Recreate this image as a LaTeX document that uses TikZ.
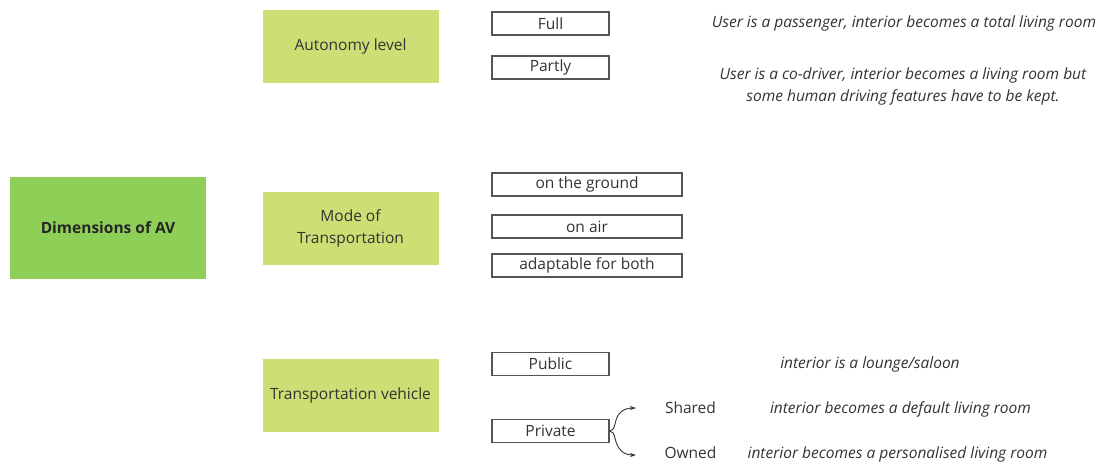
\documentclass[tikz,border=0pt]{standalone}
\usepackage{fontspec}
\setmainfont{Open Sans}
\usetikzlibrary{arrows.meta}
\definecolor{rootgreen}{HTML}{8ECF57}
\definecolor{dimgreen}{HTML}{CEDD74}
\definecolor{inktext}{HTML}{333333}
\definecolor{boxline}{HTML}{555555}
\begin{document}
\begin{tikzpicture}[x=1pt,y=-1pt,
  every node/.style={text=inktext, font=\fontsize{15.5}{19}\selectfont},
  rootbox/.style={fill=rootgreen, draw=none, minimum width=196pt, minimum height=102pt, font=\fontsize{15.5}{19}\selectfont\bfseries, text=black!85},
  dimbox/.style={fill=dimgreen, draw=none, minimum width=176pt, minimum height=73pt, align=center, font=\fontsize{15.5}{22}\selectfont},
  optbox/.style={draw=boxline, line width=1.1pt, fill=white, inner sep=0pt, minimum height=23pt},
  shortopt/.style={optbox, minimum width=117pt},
  longopt/.style={optbox, minimum width=190pt},
  note/.style={font=\fontsize{15.5}{22}\selectfont\itshape, align=center},
  branch/.style={draw=inktext, line width=0.9pt, -{Stealth[length=6pt,width=4pt]}}
]
\useasboundingbox (0,0) rectangle (1107,467);

% root and dimensions
\node[rootbox] (root) at (108,228) {Dimensions of AV};
\node[dimbox] (auto) at (350.5,46) {Autonomy level};
\node[dimbox] (mode) at (350.5,228.5) {Mode of\\Transportation};
\node[dimbox] (veh) at (350.5,395.5) {Transportation vehicle};

% autonomy level options
\node[shortopt] (full) at (550.5,23.5) {Full};
\node[shortopt] (partly) at (550.5,67.5) {Partly};
\node[note] (fullnote) at (904,23) {User is a passenger, interior becomes a total living room};
\node[note] (partlynote) at (903,86) {User is a co-driver, interior becomes a living room but\\some human driving features have to be kept.};

% mode of transportation options
\node[longopt] (ground) at (587,184.5) {on the ground};
\node[longopt] (air) at (587,226.5) {on air};
\node[longopt] (both) at (587,265.5) {adaptable for both};

% transportation vehicle options
\node[shortopt] (public) at (550.5,364) {Public};
\node[shortopt] (private) at (550.5,431) {Private};
\node[note] (publicnote) at (870,364) {interior is a lounge/saloon};

\node (shared) at (690.5,408) {Shared};
\node (owned) at (690.5,453) {Owned};
\node[note] (sharednote) at (900.5,409) {interior becomes a default living room};
\node[note] (ownednote) at (897.5,454) {interior becomes a personalised living room};

% brace splitting the private option
\coordinate (upend) at (636,408);
\coordinate (downend) at (636,455);
\draw[branch] (private.east) .. controls (616,431) and (614,420) .. (619,414) .. controls (622,410) and (627,408) .. (upend);
\draw[branch] (private.east) .. controls (616,431) and (614,442) .. (619,448) .. controls (622,453) and (627,455) .. (downend);
\end{tikzpicture}
\end{document}
